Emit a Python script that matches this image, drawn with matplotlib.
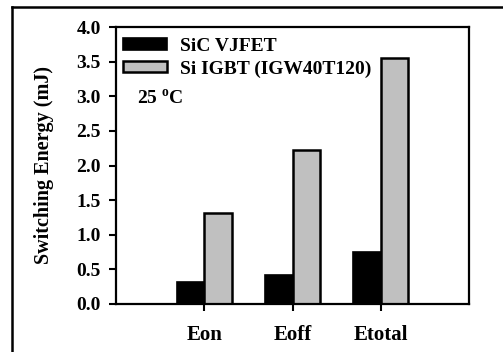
import matplotlib
matplotlib.use('Agg')
import matplotlib.pyplot as plt
import numpy as np
from matplotlib.lines import Line2D

categories = ['Eon', 'Eoff', 'Etotal']
sic_vjfet = [0.32, 0.42, 0.75]
si_igbt = [1.32, 2.23, 3.55]
series_names = ['SiC VJFET', 'Si IGBT (IGW40T120)']
yticks = [0.0, 0.5, 1.0, 1.5, 2.0, 2.5, 3.0, 3.5, 4.0]

plt.rcParams['font.family'] = ['Liberation Serif', 'DejaVu Serif']
plt.rcParams['font.weight'] = 'bold'
plt.rcParams['mathtext.fontset'] = 'custom'
plt.rcParams['mathtext.bf'] = 'Liberation Serif:bold'
plt.rcParams['mathtext.rm'] = 'Liberation Serif:bold'

fig = plt.figure(figsize=(5.03, 3.52), dpi=100)
ax = fig.add_axes([116 / 503, 1 - 304 / 352, 353 / 503, 277 / 352])

x = np.arange(1, len(categories) + 1)
w = 0.31
ax.bar(x - w / 2, sic_vjfet, w, color='black', edgecolor='black', linewidth=1.2,
       label=series_names[0])
ax.bar(x + w / 2, si_igbt, w, color='#c0c0c0', edgecolor='black', linewidth=1.8,
       label=series_names[1])

ax.set_xlim(0, 4)
ax.set_ylim(0, 4)
ax.set_xticks(x)
ax.set_xticklabels(categories, fontsize=15, fontweight='bold')
ax.set_yticks(yticks)
ax.set_yticklabels(['%.1f' % v for v in yticks], fontsize=14, fontweight='bold')
ax.tick_params(axis='both', direction='out', length=5, width=1.5, top=False, right=False)
ax.tick_params(axis='x', pad=10)
ax.tick_params(axis='y', pad=6)
for s in ax.spines.values():
    s.set_linewidth(1.6)
ax.set_ylabel('Switching Energy (mJ)', fontsize=14.5, fontweight='bold', labelpad=16)

leg = ax.legend(loc='upper left', frameon=False, fontsize=14, handlelength=2.27,
                handleheight=0.52, handletextpad=0.67, labelspacing=0.27,
                borderpad=0, borderaxespad=0, bbox_to_anchor=(7 / 353, 1 - 11 / 277))

ax.text(0.24, 2.97, r'25 $^{\mathbf{o}}$C', fontsize=14, fontweight='bold', va='center')

# outer frame lines (left and top)
fig.add_artist(Line2D([12 / 503, 12 / 503], [0, 1 - 7 / 352], color='black', lw=1.8,
                      transform=fig.transFigure))
fig.add_artist(Line2D([12 / 503, 1], [1 - 7 / 352, 1 - 7 / 352], color='black', lw=1.8,
                      transform=fig.transFigure))

fig.savefig('out.png', dpi=100)
